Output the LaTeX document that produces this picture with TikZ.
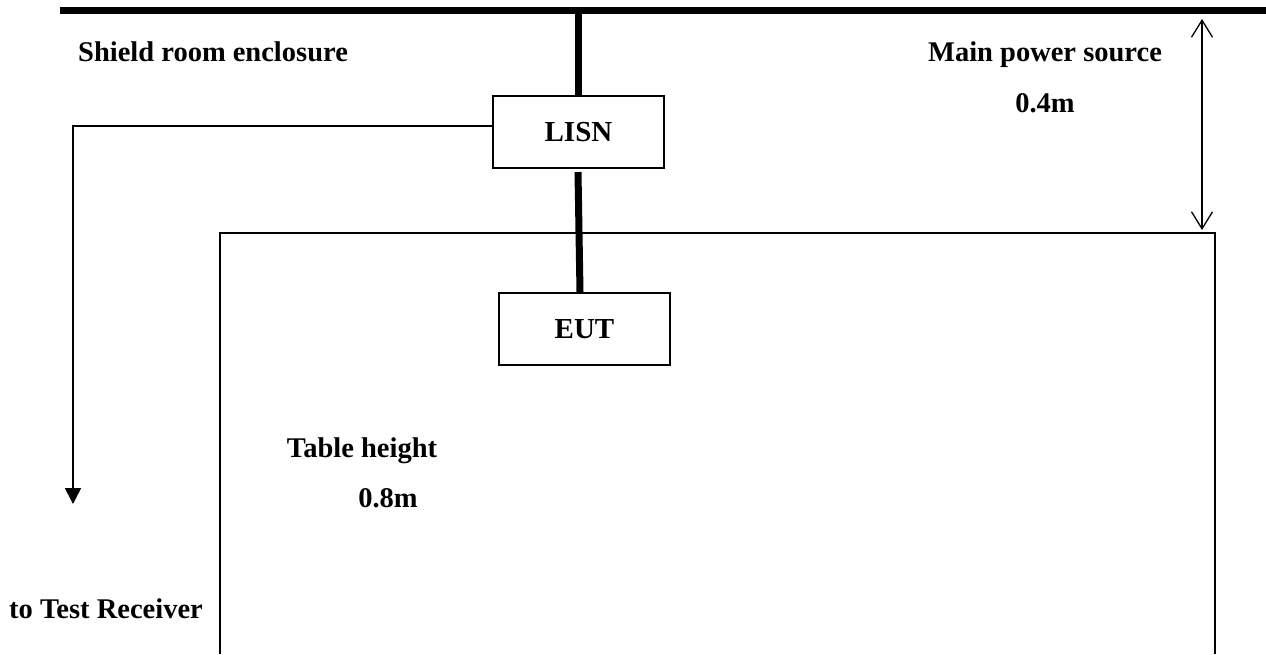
\documentclass[tikz,border=0pt]{standalone}
\usepackage{fontspec}
\setmainfont{Liberation Serif}
\usetikzlibrary{arrows.meta}
\begin{document}
\begin{tikzpicture}[x=1pt,y=-1pt,
  lbl/.style={font=\fontsize{28.5}{32}\selectfont\bfseries, inner sep=0pt},
  boxnode/.style={draw, line width=2.5pt, minimum width=171pt, minimum height=72pt, font=\fontsize{29}{32}\selectfont\bfseries},
  thick wire/.style={line width=7pt},
  thin wire/.style={line width=1.6pt},
  dimline/.style={line width=1.3pt, >={Straight Barb[length=17pt,width=21pt,line width=1.3pt]}, <->}]
\useasboundingbox (0,0) rectangle (1266,654);
% top bar
\coordinate (barL) at (60,10);
\coordinate (barR) at (1266,10);
\draw[line width=7pt] (barL) -- (barR);
% LISN and EUT
\node[boxnode] (lisn) at (578.5,132) {LISN};
\node[boxnode] (eut) at (584.5,329) {EUT};
\coordinate (lisntop) at (578,10);
\draw[thick wire] (lisntop) -- (lisn.north -| lisntop);
\coordinate (lt) at (578,172);
\coordinate (eb) at (580,292);
\draw[thick wire] (lt) -- (eb);
% table
\coordinate (t1) at (220,654);
\coordinate (t2) at (220,233);
\coordinate (t3) at (1215,233);
\coordinate (t4) at (1215,654);
\draw[line width=1.8pt] (t1) -- (t2) -- (t3) -- (t4);
% wire to receiver
\coordinate (corner) at (73,126);
\coordinate (rx) at (73,504);
\draw[thin wire, -{Triangle[length=16pt,width=16pt]}] (lisn.west |- corner) -- (corner) -- (rx);
% 0.4 m dimension
\coordinate (d1) at (1202,19);
\coordinate (d2) at (1202,230);
\draw[dimline] (d1) -- (d2);
% labels
\node[lbl, anchor=west] (shield) at (78,52) {Shield room enclosure};
\node[lbl] (mps) at (1045,55) {Main power source};
\node[lbl] (d04) at (1045,103) {0.4m};
\node[lbl] (th) at (362,451) {Table height};
\node[lbl] (d08) at (388,498) {0.8m};
\node[lbl, anchor=west] (rec) at (9,609) {to Test Receiver};
\end{tikzpicture}
\end{document}
